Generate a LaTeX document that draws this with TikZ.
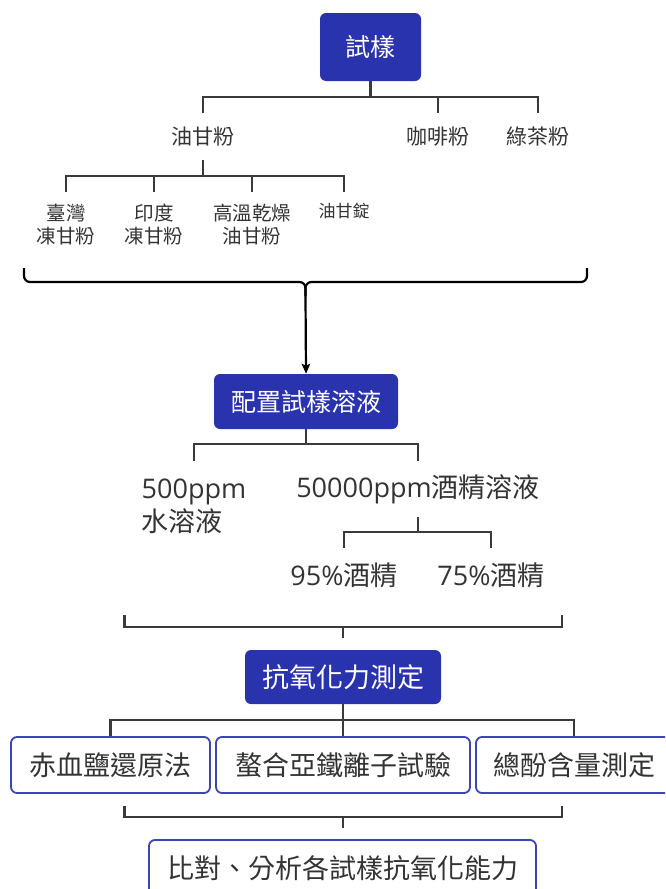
\documentclass[tikz,border=0pt]{standalone}
\usepackage{fontspec}
\setmainfont{Noto Sans CJK TC}
\newfontfamily\os{Open Sans}
\usetikzlibrary{arrows.meta}
\definecolor{blueF}{HTML}{2A33AE}
\definecolor{borderC}{HTML}{3B45B5}
\definecolor{lineC}{HTML}{3A3A3A}
\definecolor{textC}{HTML}{333333}
\begin{document}
\begin{tikzpicture}[x=1pt,y=-1pt,
  conn/.style={draw=lineC, line width=2.2pt},
  bracefx/.style={draw=black, line width=2.2pt, rounded corners=6pt},
  bluebox/.style={fill=blueF, rounded corners=6pt, text=white, inner sep=0pt},
  wbox/.style={draw=borderC, line width=1.8pt, fill=white, rounded corners=6pt, text=textC, inner sep=0pt, font=\fontsize{27}{32}\selectfont},
  lab/.style={text=textC, inner sep=0pt},
  fA/.style={font=\fontsize{21}{25}\selectfont},
  fB/.style={font=\fontsize{19.5}{23}\selectfont},
  fC/.style={font=\fontsize{27}{32.5}\selectfont},
]
\useasboundingbox (0,0) rectangle (665,889);
\clip (0,0) rectangle (665,889);

% level 0
\node[bluebox, minimum width=101pt, minimum height=68pt, font=\fontsize{25}{30}\selectfont] (s) at (370.5,47) {試樣};
% level 1
\node[lab, fA, minimum height=47pt] (yg) at (203,136.5) {油甘粉};
\node[lab, fA, minimum height=47pt] (cf) at (438,136.5) {咖啡粉};
\node[lab, fA, minimum height=47pt] (gt) at (538,136.5) {綠茶粉};
\draw[conn] (s.south) -- ++(0,16) coordinate (j1);
\draw[conn] (yg.north) |- (gt.north |- j1) -- (gt.north);
\draw[conn] (cf.north) -- (cf.north |- j1);
% level 2
\node[lab, fB, align=center, anchor=north, inner ysep=12pt] (l1) at (66,192) {臺灣\\凍甘粉};
\node[lab, fB, align=center, anchor=north, inner ysep=12pt] (l2) at (154,192) {印度\\凍甘粉};
\node[lab, fB, align=center, anchor=north, inner ysep=12pt] (l3) at (252,192) {高溫乾燥\\油甘粉};
\node[lab, font=\fontsize{17}{20}\selectfont, anchor=north, inner ysep=10.5pt] (l4) at (344,192) {油甘錠};
\draw[conn] (yg.south) -- ++(0,16) coordinate (j2);
\draw[conn] (l1.north) |- (l4.north |- j2) -- (l4.north);
\draw[conn] (l2.north) -- (l2.north |- j2);
\draw[conn] (l3.north) -- (l3.north |- j2);

% brace
\coordinate (bl) at (24,268);
\coordinate (br) at (587,268);
\coordinate (bm) at (305.5,282);
\coordinate (bt) at (305.5,296);
\draw[bracefx] (bl) -- (bl |- bm) -- (bm) -- (bt);
\draw[bracefx] (br) -- (br |- bm) -- (bm) -- (bt);

% prep
\node[bluebox, minimum width=184pt, minimum height=55pt, font=\fontsize{25}{30}\selectfont] (prep) at (306,401.5) {配置試樣溶液};
\draw[line width=2.2pt, -{Stealth[length=10pt,width=8.5pt,inset=2pt]}] (bt) -- (prep.north);

\node[lab, fC, align=left, anchor=north, inner ysep=18pt] (sol1) at (194,461) {{\os 500ppm}\\水溶液};
\node[lab, fC, minimum height=56pt] (sol2) at (418,489) {{\os 50000ppm}酒精溶液};
\draw[conn] (prep.south) -- ++(0,15) coordinate (j3);
\draw[conn] (sol1.north) |- (sol2.north |- j3) -- (sol2.north);

\node[lab, fC, minimum height=54pt] (e1) at (344,575) {{\os 95\%}酒精};
\node[lab, fC, minimum height=54pt] (e2) at (491,575) {{\os 75\%}酒精};
\draw[conn] (sol2.south) -- ++(0,15) coordinate (j4);
\draw[conn] (e1.north) |- (e2.north |- j4) -- (e2.north);

% bracket 1
\coordinate (k1l) at (124.5,615);
\coordinate (k1r) at (562,615);
\coordinate (k1c) at (343,627);
\coordinate (k1s) at (343,638);
\draw[conn] (k1l) -- (k1l |- k1c) -- (k1r |- k1c) -- (k1r);
\draw[conn] (k1c) -- (k1s);

% antioxidant
\node[bluebox, minimum width=196pt, minimum height=54pt, font=\fontsize{27}{32}\selectfont] (anti) at (343,677) {抗氧化力測定};
\node[wbox, minimum width=199pt, minimum height=56pt] (m1) at (110.5,765) {赤血鹽還原法};
\node[wbox, minimum width=254pt, minimum height=56pt] (m2) at (343,765) {螯合亞鐵離子試驗};
\node[wbox, minimum width=196pt, minimum height=56pt] (m3) at (574,765) {總酚含量測定};
\draw[conn] (anti.south) -- ++(0,16) coordinate (j5);
\draw[conn] (m1.north) |- (m3.north |- j5) -- (m3.north);
\draw[conn] (m2.north) -- (j5);

% bracket 2
\coordinate (k2l) at (124.5,806);
\coordinate (k2r) at (562,806);
\coordinate (k2c) at (343,817);
\coordinate (k2s) at (343,828);
\draw[conn] (k2l) -- (k2l |- k2c) -- (k2r |- k2c) -- (k2r);
\draw[conn] (k2c) -- (k2s);

\node[wbox, minimum width=387pt, minimum height=56pt] (fin) at (342.5,868) {比對、分析各試樣抗氧化能力};
\end{tikzpicture}
\end{document}
